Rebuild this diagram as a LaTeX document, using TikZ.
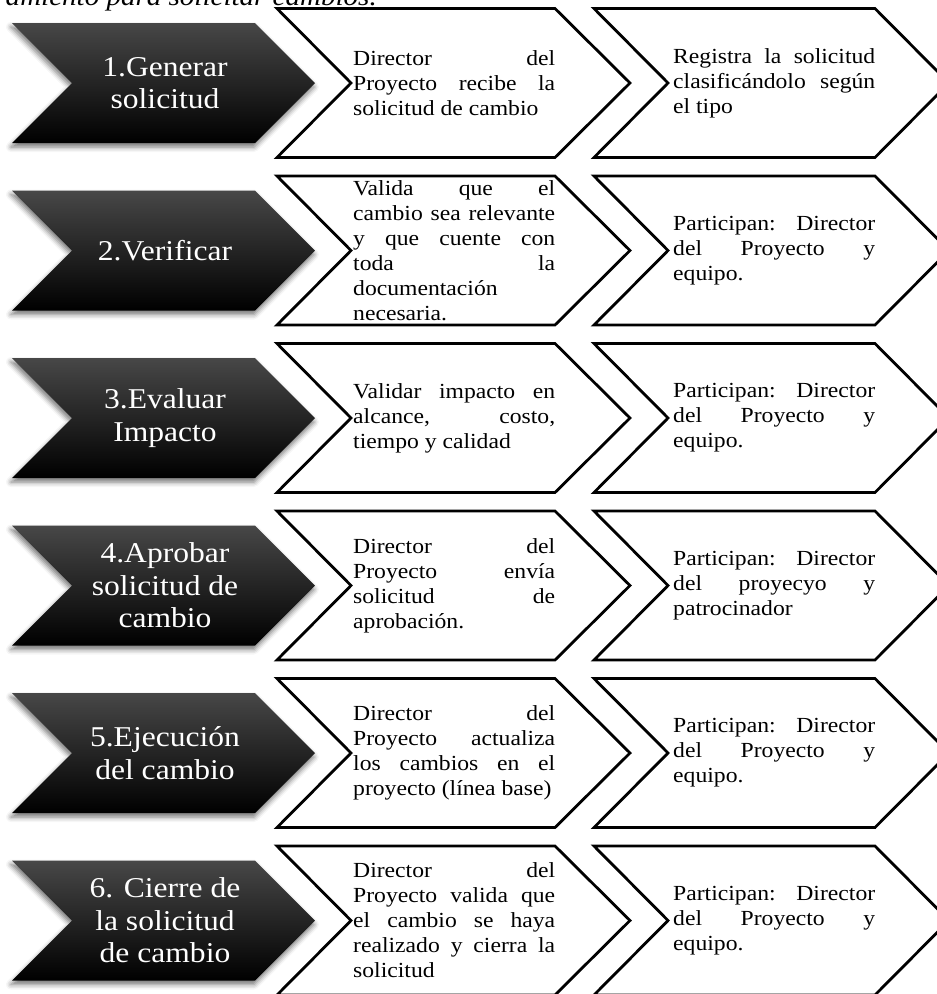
\documentclass[tikz,border=0pt]{standalone}
\usepackage{fontspec}
\setmainfont{Liberation Serif}[FakeStretch=1.1]
\usepackage{tikz}
\usetikzlibrary{shadows.blur,positioning}
\hyphenpenalty=10000
\tolerance=10000

\begin{document}
\begin{tikzpicture}[x=1pt, y=1pt,
  stepshape/.style={top color=black!72, middle color=black, bottom color=black,
    blur shadow={shadow xshift=-1pt, shadow yshift=-4pt, shadow blur radius=5pt, shadow opacity=55}},
  boxshape/.style={draw, line width=2.8pt, fill=white},
  steptext/.style={text=white, align=center, inner sep=0pt, font=\fontsize{28.7}{32.5}\selectfont},
  boxtext/.style={anchor=west, text width=202pt, align=justify, inner sep=0pt, font=\fontsize{21.5}{25}\selectfont}
]
\useasboundingbox (0,0) rectangle (937,-994);

\node[anchor=base east, inner sep=0pt, font=\fontsize{26.4}{30}\selectfont\itshape] (caption) at (377,-5.5) {amiento para solicitar cambios.};

% chevrons, one row per step
\foreach \i in {0,...,5}{
  \begin{scope}[yshift=-\i*167.5pt]
    \path[stepshape] (12,-23) -- (255,-23) -- (315,-83) -- (255,-143) -- (12,-143) -- (72,-83) -- cycle;
    \draw[boxshape] (277,-8.5) -- (555,-8.5) -- (630,-83) -- (555,-157.5) -- (277,-157.5) -- (351,-83) -- cycle;
    \draw[boxshape] (594,-8.5) -- (875,-8.5) -- (949,-83) -- (875,-157.5) -- (594,-157.5) -- (668,-83) -- cycle;
  \end{scope}
}

\node[steptext] (step1) at (165,-83) {1.Generar\\solicitud};
\node[boxtext] (desc1) at (353,-83) {Director del\linebreak Proyecto recibe la\linebreak solicitud de cambio};
\node[boxtext] (part1) at (673,-83) {Registra la solicitud\linebreak clasificándolo según\linebreak el tipo};

\node[steptext] (step2) at (165,-250.5) {2.Verificar};
\node[boxtext] (desc2) at (353,-250.5) {Valida que el\linebreak cambio sea relevante\linebreak y que cuente con\linebreak toda la\linebreak documentación\linebreak necesaria.};
\node[boxtext] (part2) at (673,-250.5) {Participan: Director\linebreak del Proyecto y\linebreak equipo.};

\node[steptext] (step3) at (165,-418) {3.Evaluar\\Impacto};
\node[boxtext] (desc3) at (353,-418) {Validar impacto en\linebreak alcance, costo,\linebreak tiempo y calidad};
\node[boxtext] (part3) at (673,-418) {Participan: Director\linebreak del Proyecto y\linebreak equipo.};

\node[steptext] (step4) at (165,-585.5) {4.Aprobar\\solicitud de\\cambio};
\node[boxtext] (desc4) at (353,-585.5) {Director del\linebreak Proyecto envía\linebreak solicitud de\linebreak aprobación.};
\node[boxtext] (part4) at (673,-585.5) {Participan: Director\linebreak del proyecyo y\linebreak patrocinador};

\node[steptext] (step5) at (165,-753) {5.Ejecución\\del cambio};
\node[boxtext] (desc5) at (353,-753) {Director del\linebreak Proyecto actualiza\linebreak los cambios en el\linebreak proyecto (línea base)};
\node[boxtext] (part5) at (673,-753) {Participan: Director\linebreak del Proyecto y\linebreak equipo.};

\node[steptext] (step6) at (165,-920.5) {6. Cierre de\\la solicitud\\de cambio};
\node[boxtext] (desc6) at (353,-920.5) {Director del\linebreak Proyecto valida que\linebreak el cambio se haya\linebreak realizado y cierra la\linebreak solicitud};
\node[boxtext] (part6) at (673,-920.5) {Participan: Director\linebreak del Proyecto y\linebreak equipo.};
\end{tikzpicture}
\end{document}
